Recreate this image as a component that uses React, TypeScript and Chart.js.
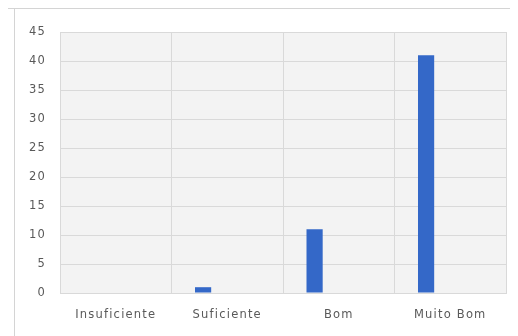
import React, { useEffect, useRef } from "react";
import { Chart, registerables } from "chart.js";

Chart.register(...registerables);

const categories = ["Insuficiente", "Suficiente", "Bom", "Muito Bom"];
const seriesValues = [0, 1, 11, 41];
const emptySeries: (number | null)[] = [null, null, null, null];
const yTicks = [0, 5, 10, 15, 20, 25, 30, 35, 40, 45];

const framePlugin = {
  id: "frame",
  beforeDraw(chart: any) {
    const { ctx, chartArea } = chart;
    ctx.save();
    ctx.fillStyle = "#ffffff";
    ctx.fillRect(0, 0, chart.width, chart.height);
    ctx.fillStyle = "#f3f3f3";
    ctx.fillRect(chartArea.left, chartArea.top, chartArea.right - chartArea.left, chartArea.bottom - chartArea.top);
    ctx.strokeStyle = "#d4d4d4";
    ctx.lineWidth = 1;
    ctx.beginPath();
    ctx.moveTo(0, 0.5);
    ctx.lineTo(chart.width, 0.5);
    ctx.moveTo(6.5, 0);
    ctx.lineTo(6.5, chart.height);
    ctx.stroke();
    ctx.restore();
    (ctx as any).letterSpacing = "1.2px";
  },
};

export default function App() {
  const ref = useRef<HTMLCanvasElement>(null);
  useEffect(() => {
    if (!ref.current) return;
    const font = { family: "'DejaVu Sans', sans-serif", size: 11.5 };
    const chart = new Chart(ref.current, {
      type: "bar",
      data: {
        labels: categories,
        datasets: [
          { data: seriesValues, backgroundColor: "#3468c8", barPercentage: 0.67, categoryPercentage: 0.65 },
          { data: emptySeries, backgroundColor: "#3468c8", barPercentage: 0.67, categoryPercentage: 0.65 },
          { data: emptySeries, backgroundColor: "#3468c8", barPercentage: 0.67, categoryPercentage: 0.65 },
        ],
      },
      plugins: [framePlugin],
      options: {
        responsive: false,
        animation: false,
        layout: { padding: { left: 0, right: 12, top: 24, bottom: 0 } },
        plugins: { legend: { display: false }, tooltip: { enabled: false } },
        scales: {
          x: {
            grid: { color: "#d9d9d9", drawTicks: false, offset: true },
            border: { color: "#d9d9d9" },
            ticks: { color: "#595959", font, padding: 15, maxRotation: 0 },
            afterFit: (s: any) => {
              s.height = 43;
            },
          },
          y: {
            min: 0,
            max: 45,
            grid: { color: "#d9d9d9", drawTicks: false },
            border: { color: "#d9d9d9" },
            afterBuildTicks: (s: any) => {
              s.ticks = yTicks.map((v) => ({ value: v }));
            },
            ticks: { color: "#595959", font, padding: 14 },
            afterFit: (s: any) => {
              s.width = 52;
            },
          },
        },
      },
    });
    return () => chart.destroy();
  }, []);
  return <canvas ref={ref} width={510} height={328} style={{ display: "block" }} />;
}
